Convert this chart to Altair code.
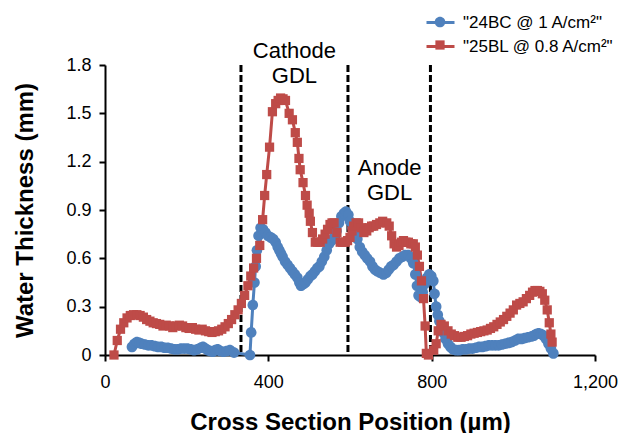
import altair as alt
import pandas as pd

S1 = '"24BC @ 1 A/cm²"'
S2 = '"25BL @ 0.8 A/cm²"'

blue_x = [66, 72, 78, 84, 90, 98, 106, 114, 122, 130, 138, 146, 154, 162, 170, 178, 186, 194,
          202, 210, 218, 226, 234, 240, 246, 252, 258, 264, 270, 276, 282, 290, 298, 306, 316,
          355, 358, 362, 366, 369, 372, 376, 381, 387, 393, 399, 406, 412,
          418, 423, 427, 431, 435, 441, 447, 453, 459, 465, 471, 476, 480, 486, 491, 497, 503,
          508, 514, 520, 525, 531, 537, 543, 549, 555, 561, 567, 573, 579, 585, 590, 596, 600,
          606, 612, 618, 624, 630, 636, 642, 649, 655, 661, 667, 674, 682, 689, 695, 701, 707,
          714, 721, 728, 735, 743, 749, 755, 760, 764, 768, 773, 778, 783, 789, 794, 799, 804,
          807, 811, 815, 819, 824, 828, 834, 840, 846, 852, 860, 868, 876, 884, 892, 900, 908,
          916, 924, 932, 940, 948, 956, 964, 972, 980, 988, 996, 1004, 1012, 1020, 1028, 1036,
          1044, 1050, 1056, 1062, 1068, 1074, 1080, 1086, 1092, 1098]
blue_y = [0.05, 0.07, 0.08, 0.075, 0.07, 0.065, 0.06, 0.06, 0.055, 0.05, 0.05, 0.045, 0.045,
          0.04, 0.035, 0.035, 0.04, 0.04, 0.04, 0.035, 0.03, 0.035, 0.045, 0.05, 0.04, 0.03,
          0.025, 0.02, 0.03, 0.035, 0.025, 0.02, 0.025, 0.03, 0.015, 0.0,
          0.14, 0.31, 0.45, 0.55, 0.65, 0.74, 0.79, 0.78, 0.76, 0.74, 0.73, 0.72, 0.70, 0.67,
          0.65, 0.63, 0.61, 0.58, 0.56, 0.54, 0.52, 0.50, 0.48, 0.45, 0.43, 0.44, 0.45, 0.47,
          0.49, 0.50, 0.52, 0.54, 0.55, 0.58, 0.61, 0.65, 0.69, 0.71, 0.73, 0.77, 0.82, 0.86,
          0.88, 0.89, 0.87, 0.83, 0.79, 0.76, 0.72, 0.67, 0.64, 0.62, 0.60, 0.58, 0.55, 0.53,
          0.52, 0.51, 0.50, 0.51, 0.53, 0.55, 0.56, 0.58, 0.60, 0.61, 0.62, 0.62, 0.60, 0.57,
          0.50, 0.43, 0.37, 0.36, 0.39, 0.44, 0.48, 0.50, 0.49, 0.46, 0.38, 0.30, 0.25, 0.21,
          0.17, 0.14, 0.10, 0.07, 0.05, 0.035, 0.03, 0.03, 0.035, 0.035, 0.04, 0.04, 0.045,
          0.05, 0.05, 0.055, 0.06, 0.06, 0.06, 0.06, 0.065, 0.07, 0.075, 0.08, 0.09, 0.10,
          0.10, 0.105, 0.11, 0.115, 0.12, 0.13, 0.135, 0.13, 0.12, 0.10, 0.07, 0.04, 0.01]

red_x = [22, 30, 38, 46, 54, 62, 70, 78, 86, 94, 102, 110, 118, 126, 134, 142, 150, 158, 166,
         174, 182, 190, 198, 206, 214, 222, 230, 238, 246, 254, 262, 270, 278, 286, 294, 302,
         310, 318, 326, 334, 342, 350, 357, 364, 371, 379, 386, 391, 396, 403, 410, 418, 424,
         430, 436, 442, 451, 459, 466, 471, 475, 478, 485, 491, 495, 500, 503, 508, 515, 521,
         527, 533, 539, 545, 551, 556, 561, 568, 576, 582, 588, 594, 600, 605, 609, 615, 621,
         628, 634, 641, 647, 653, 658, 665, 673, 680, 690, 696, 702, 708, 714, 720, 726, 731,
         737, 743, 749, 755, 760, 765, 770, 775, 780, 784, 787, 792, 805, 811, 816, 823, 831,
         840, 848, 856, 864, 872, 880, 888, 896, 904, 912, 920, 928, 936, 944, 952, 960, 968,
         976, 984, 992, 1000, 1008, 1016, 1024, 1032, 1040, 1047, 1053, 1059, 1065, 1071, 1077,
         1083, 1088, 1092, 1095]
red_y = [0.0, 0.09, 0.16, 0.20, 0.23, 0.245, 0.25, 0.25, 0.245, 0.235, 0.22, 0.21, 0.20, 0.195,
         0.19, 0.18, 0.185, 0.18, 0.17, 0.18, 0.185, 0.18, 0.17, 0.165, 0.17, 0.16, 0.155, 0.16,
         0.15, 0.145, 0.14, 0.145, 0.15, 0.16, 0.175, 0.195, 0.22, 0.25, 0.28, 0.32, 0.37, 0.43,
         0.49, 0.54, 0.60, 0.68, 0.84, 0.99, 1.12, 1.29, 1.51, 1.56, 1.58, 1.595, 1.59, 1.58,
         1.50, 1.46, 1.38, 1.32, 1.22, 1.15, 1.07, 0.99, 0.93, 0.88, 0.83, 0.76, 0.70, 0.70,
         0.70, 0.72, 0.75, 0.78, 0.81, 0.82, 0.82, 0.76, 0.70, 0.70, 0.70, 0.71, 0.73, 0.77,
         0.80, 0.82, 0.82, 0.79, 0.76, 0.77, 0.79, 0.80, 0.80, 0.81, 0.82, 0.83, 0.82, 0.80,
         0.74, 0.69, 0.67, 0.68, 0.70, 0.71, 0.70, 0.70, 0.69, 0.69, 0.67, 0.62, 0.55, 0.46,
         0.35, 0.18, 0.01, 0.0, 0.03, 0.07, 0.15, 0.19, 0.18, 0.15, 0.13, 0.12, 0.11, 0.11,
         0.115, 0.12, 0.13, 0.135, 0.14, 0.145, 0.15, 0.155, 0.165, 0.175, 0.19, 0.205, 0.22,
         0.24, 0.26, 0.28, 0.31, 0.32, 0.33, 0.35, 0.37, 0.39, 0.40, 0.40, 0.395, 0.38, 0.34,
         0.28, 0.20, 0.13, 0.08]

gdl_bounds = [333, 595, 797]
ann_x = [464, 697]
ann_y = [1.843, 1.117]
ann_text = ["Cathode\nGDL", "Anode\nGDL"]

series_names = [S1, S2]
series_colors = ["#4F81BD", "#BE4B48"]
CIRCLE = "M0.38,0A0.38,0.38,0,1,1,-0.38,0A0.38,0.38,0,1,1,0.38,0Z"
SQUARE = "M-0.33,-0.33H0.33V0.33H-0.33Z"

df = pd.concat([
    pd.DataFrame({"pos": blue_x, "thk": blue_y, "series": S1}),
    pd.DataFrame({"pos": red_x, "thk": red_y, "series": S2}),
], ignore_index=True)
df_rules = pd.DataFrame({"pos": gdl_bounds})
df_ann = pd.DataFrame({"pos": ann_x, "thk": ann_y, "label": ann_text})

FONT = "Liberation Sans"

x_enc = alt.X("pos:Q", scale=alt.Scale(domain=[0, 1200], nice=False),
              axis=alt.Axis(values=[0, 400, 800, 1200], format=",d", labelPadding=12,
                            labelFlush=False,
                            title="Cross Section Position (µm)", titlePadding=19))
y_enc = alt.Y("thk:Q", scale=alt.Scale(domain=[0, 1.8], nice=False),
              axis=alt.Axis(values=[0, 0.3, 0.6, 0.9, 1.2, 1.5, 1.8], format=".1~f",
                            labelFlush=False,
                            labelPadding=8, title="Water Thickness (mm)", titlePadding=28))

color_scale = alt.Scale(domain=series_names, range=series_colors)

leg_common = dict(orient="none", legendX=320, legendY=-58, title=None, padding=0,
                  symbolSize=784, labelFontSize=17, labelFont=FONT, labelColor="black",
                  labelOffset=7, rowPadding=0, labelLimit=300)

lines = alt.Chart(df).mark_line(strokeWidth=3).encode(
    x=x_enc, y=y_enc,
    color=alt.Color("series:N", scale=color_scale,
                    legend=alt.Legend(symbolType="stroke", symbolStrokeWidth=3, **leg_common)),
)

points = alt.Chart(df).mark_point(filled=True, size=784, opacity=1).encode(
    x="pos:Q", y="thk:Q",
    color=alt.Color("series:N", scale=color_scale,
                    legend=alt.Legend(labelOpacity=0, **leg_common)),
    shape=alt.Shape("series:N", scale=alt.Scale(domain=series_names, range=[CIRCLE, SQUARE]),
                    legend=alt.Legend(labelOpacity=0, **leg_common)),
)

rules = alt.Chart(df_rules).mark_rule(color="black", strokeWidth=3, strokeDash=[7, 3]).encode(
    x="pos:Q"
)

ann = alt.Chart(df_ann).mark_text(lineBreak="\n", fontSize=22, lineHeight=25, font=FONT,
                                  color="black", align="center", baseline="alphabetic").encode(
    x="pos:Q", y="thk:Q", text="label:N"
)

chart = alt.layer(rules, lines, points, ann).resolve_legend(
    color="independent", shape="independent"
).properties(
    width=490, height=290,
    autosize=alt.AutoSizeParams(type="none"),
    padding={"left": 97, "top": 57, "right": 23, "bottom": 78},
).configure_view(stroke=None).configure_axis(
    grid=False, labelFont=FONT, labelFontSize=18, labelColor="black",
    titleFont=FONT, titleFontSize=24, titleFontWeight="bold", titleColor="black",
    domainColor="black", domainWidth=2, tickColor="black", tickWidth=2, tickSize=6,
)

chart.save("out.html", embed_options={"renderer": "svg", "actions": False})
